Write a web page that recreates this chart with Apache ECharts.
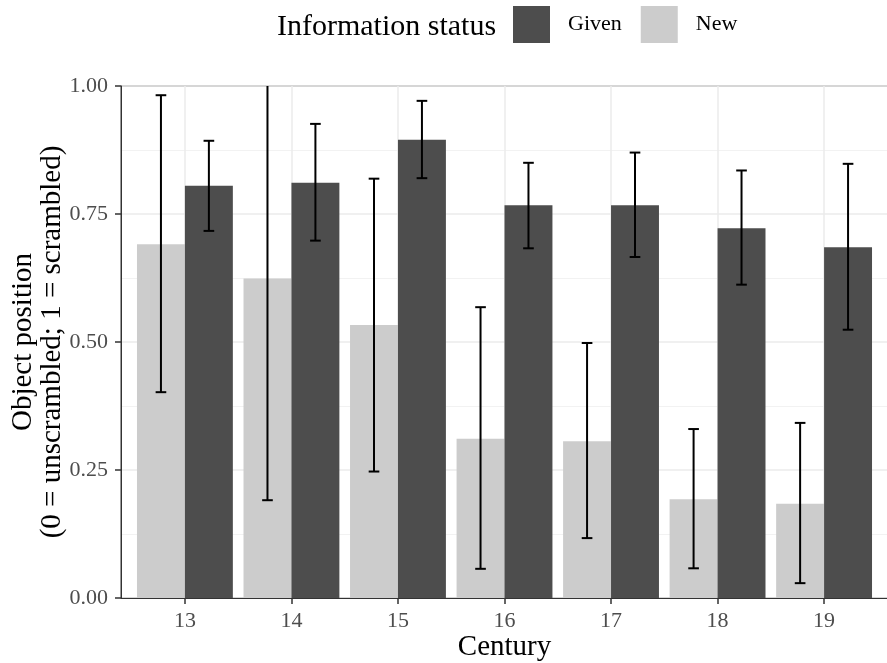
<!DOCTYPE html>
<html>
<head>
<meta charset="utf-8">
<title>Object position by century and information status</title>
<script src="https://cdn.jsdelivr.net/npm/echarts@6/dist/echarts.min.js"></script>
<style>
  html, body { margin: 0; padding: 0; background: #fff; }
  #chart { width: 887px; height: 663px; }
</style>
</head>
<body>
<div id="chart"></div>
<script>
// Centuries on the x axis
const centuries = [13, 14, 15, 16, 17, 18, 19];

// Mean object position per century, with lower / upper error bounds
const givenMean = [0.805, 0.811, 0.895, 0.767, 0.767, 0.722, 0.685];
const givenLow  = [0.717, 0.698, 0.820, 0.683, 0.666, 0.612, 0.524];
const givenHigh = [0.893, 0.926, 0.971, 0.850, 0.870, 0.835, 0.848];

const newMean = [0.691, 0.624, 0.533, 0.311, 0.306, 0.193, 0.184];
const newLow  = [0.402, 0.191, 0.247, 0.057, 0.117, 0.058, 0.029];
const newHigh = [0.982, 1.057, 0.819, 0.568, 0.498, 0.330, 0.342];

// Axis tick labels
const yTicks = [0, 0.25, 0.5, 0.75, 1];

const FONT = '"Liberation Serif", "DejaVu Serif", serif';
const GIVEN_COLOR = '#4d4d4d';
const NEW_COLOR = '#cccccc';

// dodge layout: each bar is 0.45 units wide, sitting either side of the century
const HALF = 0.225;
const CAP = 0.05;

function barRenderer(offset, color) {
  return function (params, api) {
    const x = api.value(0) + offset;
    const y = api.value(1);
    const tl = api.coord([x - HALF, y]);
    const br = api.coord([x + HALF, 0]);
    return {
      type: 'rect',
      shape: { x: tl[0], y: tl[1], width: br[0] - tl[0], height: br[1] - tl[1] },
      style: { fill: color }
    };
  };
}

function errorRenderer(offset) {
  return function (params, api) {
    const cs = params.coordSys;
    const x = api.value(0) + offset;
    const lo = api.coord([x, api.value(1)]);
    const hi = api.coord([x, api.value(2)]);
    const capL = api.coord([x - CAP, 0])[0];
    const capR = api.coord([x + CAP, 0])[0];
    const top = Math.max(hi[1], cs.y);
    const style = { stroke: '#000', lineWidth: 2 };
    const children = [
      { type: 'line', shape: { x1: lo[0], y1: lo[1], x2: lo[0], y2: top }, style: style },
      { type: 'line', shape: { x1: capL, y1: lo[1], x2: capR, y2: lo[1] }, style: style }
    ];
    if (hi[1] >= cs.y) {
      children.push({ type: 'line', shape: { x1: capL, y1: hi[1], x2: capR, y2: hi[1] }, style: style });
    }
    return { type: 'group', children: children };
  };
}

const chart = echarts.init(document.getElementById('chart'), null, { renderer: 'canvas' });

const xRange = { min: 12.4, max: 19.6 };

chart.setOption({
  animation: false,
  backgroundColor: '#ffffff',
  title: {
    text: 'Information status',
    left: 277,
    top: 12,
    padding: 0,
    textStyle: { fontFamily: FONT, fontSize: 30, fontWeight: 'normal', color: '#000' }
  },
  legend: {
    data: ['Given', 'New'],
    left: 513,
    top: 6,
    padding: 0,
    itemWidth: 37,
    itemHeight: 37,
    itemGap: 19,
    icon: 'rect',
    textStyle: { fontFamily: FONT, fontSize: 22, color: '#000', padding: [0, 0, 0, 13] }
  },
  grid: {
    left: 121,
    top: 86,
    width: 767,
    height: 512,
    show: true,
    borderColor: '#333333',
    borderWidth: 1,
    containLabel: false,
    outerBoundsMode: 'none'
  },
  xAxis: [
    {
      type: 'value',
      min: xRange.min,
      max: xRange.max,
      name: 'Century',
      nameLocation: 'middle',
      nameGap: 35,
      nameMoveOverlap: false,
      nameTextStyle: { fontFamily: FONT, fontSize: 29, color: '#000' },
      axisLine: { show: false },
      axisTick: { show: true, length: 6, customValues: centuries, lineStyle: { color: '#333333', width: 1.5 } },
      axisLabel: {
        customValues: centuries,
        margin: 12,
        fontFamily: FONT,
        fontSize: 22,
        color: '#4d4d4d',
        formatter: v => String(v)
      },
      splitLine: { show: true, lineStyle: { color: '#ebebeb', width: 1.5 } }
    },
    {
      // panel baseline drawn over the bars
      type: 'value',
      min: xRange.min,
      max: xRange.max,
      position: 'bottom',
      z: 10,
      axisLine: { show: true, onZero: false, lineStyle: { color: '#333333', width: 1 } },
      axisTick: { show: false },
      axisLabel: { show: false },
      splitLine: { show: false }
    }
  ],
  yAxis: {
    type: 'value',
    min: 0,
    max: 1,
    interval: 0.25,
    name: 'Object position\n(0 = unscrambled; 1 = scrambled)',
    nameLocation: 'middle',
    nameGap: 54,
    nameMoveOverlap: false,
    nameRotate: 90,
    nameTextStyle: { fontFamily: FONT, fontSize: 29, color: '#000', lineHeight: 29, align: 'center' },
    axisLine: { show: true, lineStyle: { color: '#333333', width: 1 } },
    axisTick: { show: true, length: 6, lineStyle: { color: '#333333', width: 1.5 } },
    axisLabel: {
      margin: 13,
      fontFamily: FONT,
      fontSize: 22,
      color: '#4d4d4d',
      formatter: v => v.toFixed(2)
    },
    splitLine: { show: true, lineStyle: { color: '#ebebeb', width: 1.5 } },
    minorTick: { show: false, splitNumber: 2 },
    minorSplitLine: { show: true, lineStyle: { color: '#f2f2f2', width: 1 } }
  },
  series: [
    {
      name: 'New',
      type: 'custom',
      itemStyle: { color: NEW_COLOR },
      data: centuries.map((c, i) => [c, newMean[i]]),
      renderItem: barRenderer(-HALF, NEW_COLOR),
      z: 2
    },
    {
      name: 'Given',
      type: 'custom',
      itemStyle: { color: GIVEN_COLOR },
      data: centuries.map((c, i) => [c, givenMean[i]]),
      renderItem: barRenderer(HALF, GIVEN_COLOR),
      z: 2
    },
    {
      name: 'New error',
      type: 'custom',
      data: centuries.map((c, i) => [c, newLow[i], newHigh[i]]),
      renderItem: errorRenderer(-HALF),
      z: 3
    },
    {
      name: 'Given error',
      type: 'custom',
      data: centuries.map((c, i) => [c, givenLow[i], givenHigh[i]]),
      renderItem: errorRenderer(HALF),
      z: 3
    }
  ]
});
</script>
</body>
</html>
